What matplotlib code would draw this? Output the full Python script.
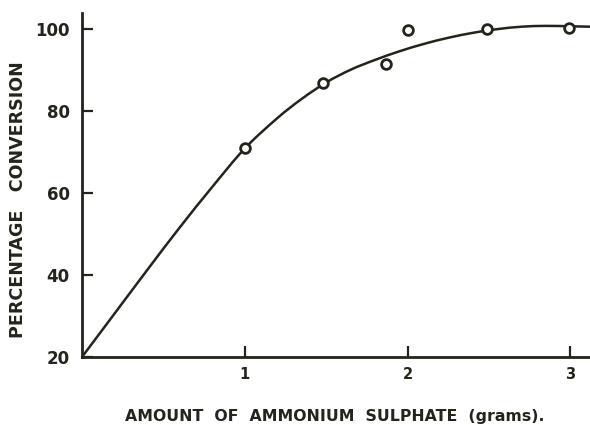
import matplotlib
matplotlib.use("Agg")
import matplotlib.pyplot as plt
from matplotlib.path import Path
from matplotlib.patches import PathPatch

# Measured points (amount of ammonium sulphate, % conversion)
amount_pts = [1.0, 1.48, 1.865, 2.0, 2.49, 2.99]
conv_pts = [70.9, 86.9, 91.6, 99.9, 100.0, 100.3]

# Fitted curve
curve_x = [0.0, 0.2, 0.4, 0.6, 0.8, 1.0, 1.2, 1.35, 1.5, 1.65, 1.8, 1.95,
           2.1, 2.25, 2.4, 2.55, 2.7, 2.85, 3.0, 3.12]
curve_y = [20.0, 30.6, 41.2, 51.6, 61.5, 70.9, 78.3, 83.0, 87.0, 90.1, 92.5,
           94.6, 96.4, 97.9, 99.1, 100.0, 100.6, 100.8, 100.7, 100.6]

x_ticks = [1, 2, 3]
x_ticklabels = ["1", "2", "3"]
y_ticks = [20, 40, 60, 80, 100]
y_ticklabels = ["20", "40", "60", "80", "100"]

ink = "#24241c"


def smooth_path(xs, ys):
    """Catmull-Rom spline through the given points, as cubic Bezier segments."""
    pts = list(zip(xs, ys))
    verts = [pts[0]]
    codes = [Path.MOVETO]
    n = len(pts)
    for i in range(n - 1):
        p0 = pts[i - 1] if i > 0 else pts[i]
        p1 = pts[i]
        p2 = pts[i + 1]
        p3 = pts[i + 2] if i + 2 < n else pts[i + 1]
        c1 = (p1[0] + (p2[0] - p0[0]) / 6.0, p1[1] + (p2[1] - p0[1]) / 6.0)
        c2 = (p2[0] - (p3[0] - p1[0]) / 6.0, p2[1] - (p3[1] - p1[1]) / 6.0)
        verts += [c1, c2, p2]
        codes += [Path.CURVE4, Path.CURVE4, Path.CURVE4]
    return Path(verts, codes)


fig = plt.figure(figsize=(5.9, 4.25), dpi=100)
ax = fig.add_axes([0.139, 0.16, 0.861, 0.809])

patch = PathPatch(smooth_path(curve_x, curve_y), facecolor="none",
                  edgecolor=ink, lw=1.8, zorder=2, transform=ax.transData)
ax.add_patch(patch)
ax.plot(amount_pts, conv_pts, linestyle="none", marker="o", ms=7,
        mfc="white", mec=ink, mew=2.0, zorder=3, clip_on=False)

ax.set_xlim(0, 3.12)
ax.set_ylim(20, 103.9)

for s in ["top", "right"]:
    ax.spines[s].set_visible(False)
for s in ["left", "bottom"]:
    ax.spines[s].set_linewidth(2.0)
    ax.spines[s].set_color(ink)

ax.set_xticks(x_ticks)
ax.set_xticklabels(x_ticklabels, fontsize=10.5, fontweight="bold", color=ink)
ax.set_yticks(y_ticks)
ax.set_yticklabels(y_ticklabels, fontsize=12, fontweight="bold", color=ink)
ax.tick_params(axis="both", direction="in", length=8, width=1.6, color=ink)
ax.tick_params(axis="y", pad=9)
ax.tick_params(axis="x", pad=7)
# the 60 tick appears magenta in the scan
ax.yaxis.get_major_ticks()[2].tick1line.set_color("#c0208c")

ylab = "PERCENTAGE   CONVERSION"
fig.text(0.031, 0.53, ylab, rotation=90, ha="center", va="center",
         fontsize=12.6, fontweight="bold", color=ink)

xlab = "AMOUNT  OF  AMMONIUM  SULPHATE  (grams)."
fig.text(0.568, 0.019, xlab, ha="center", va="center",
         fontsize=11.3, fontweight="bold", color=ink)

fig.savefig("out.png", dpi=100, facecolor="white")
